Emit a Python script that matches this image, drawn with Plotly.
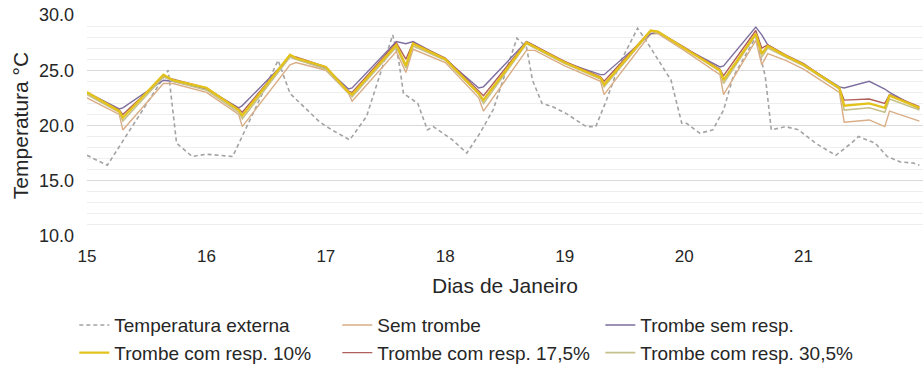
import plotly.graph_objects as go

# Indoor temperatures (°C) at key times of each day, January 15–22
dias = [15.00, 15.27, 15.30, 15.64, 15.72, 16.00, 16.27, 16.30, 16.70, 16.75,
        17.00, 17.19, 17.22, 17.59, 17.67, 17.73, 18.00, 18.28, 18.32, 18.68,
        18.75, 19.00, 19.30, 19.33, 19.72, 19.78, 20.00, 20.30, 20.33, 20.60,
        20.65, 20.70, 20.85, 21.00, 21.30, 21.34, 21.55, 21.68, 21.72, 21.97]

sem_trombe = [22.5, 21.0, 19.6, 23.8, 23.8, 23.0, 21.0, 19.9, 25.5, 25.7,
              25.0, 22.9, 22.2, 26.7, 24.8, 26.9, 25.7, 22.5, 21.3, 26.8,
              26.8, 25.4, 24.0, 22.8, 28.3, 28.3, 26.8, 24.6, 22.8, 27.7,
              25.5, 26.5, 25.9, 25.1, 23.0, 20.3, 20.5, 19.9, 21.3, 20.4]

trombe_sem_resp = [23.0, 21.5, 21.6, 24.1, 24.0, 23.3, 21.6, 21.8, 26.2, 26.0,
                   25.2, 23.3, 23.4, 27.6, 27.4, 27.6, 26.0, 23.4, 23.5, 27.6,
                   27.2, 25.7, 24.6, 24.6, 28.3, 28.5, 27.0, 25.3, 25.4, 28.9,
                   28.2, 27.3, 26.3, 25.5, 23.5, 23.4, 24.0, 23.3, 23.0, 21.5]

trombe_10 = [23.0, 21.3, 20.7, 24.6, 24.1, 23.4, 21.4, 20.9, 26.4, 26.1,
             25.3, 23.0, 22.8, 27.3, 25.4, 27.4, 26.0, 22.9, 22.3, 27.5,
             27.1, 25.7, 24.3, 23.7, 28.6, 28.5, 27.0, 25.0, 24.1, 28.3,
             26.5, 27.2, 26.3, 25.5, 23.4, 21.8, 22.0, 21.6, 22.7, 21.6]

trombe_17_5 = [23.0, 21.4, 21.0, 24.4, 24.2, 23.4, 21.5, 21.2, 26.3, 26.2,
               25.3, 23.1, 23.0, 27.5, 26.0, 27.5, 26.1, 23.1, 22.7, 27.6,
               27.2, 25.8, 24.4, 24.0, 28.6, 28.5, 27.1, 25.1, 24.5, 28.6,
               27.0, 27.3, 26.4, 25.6, 23.4, 22.3, 22.4, 22.0, 22.8, 21.7]

trombe_30_5 = [22.8, 21.2, 20.4, 24.4, 24.0, 23.2, 21.2, 20.6, 26.2, 26.0,
               25.1, 22.9, 22.6, 27.1, 25.2, 27.2, 25.9, 22.8, 22.0, 27.4,
               27.0, 25.6, 24.2, 23.5, 28.5, 28.4, 27.0, 24.9, 23.8, 28.2,
               26.2, 27.0, 26.2, 25.4, 23.3, 21.4, 21.6, 21.2, 22.4, 21.4]

# Outdoor air temperature
dias_ext = [15.00, 15.17, 15.68, 15.75, 15.88, 16.00, 16.22, 16.60, 16.70, 16.95,
            17.05, 17.20, 17.34, 17.56, 17.61, 17.65, 17.77, 17.85, 17.90, 17.98,
            18.06, 18.18, 18.29, 18.40, 18.60, 18.68, 18.73, 18.81, 18.90, 19.01,
            19.18, 19.26, 19.35, 19.46, 19.61, 19.68, 19.85, 19.89, 19.98, 20.02,
            20.13, 20.24, 20.33, 20.41, 20.60, 20.68, 20.73, 20.85, 20.96, 21.10,
            21.27, 21.40, 21.46, 21.60, 21.70, 21.81, 21.92, 21.97]
temp_externa = [17.3, 16.4, 25.0, 18.4, 17.2, 17.4, 17.2, 25.9, 22.9, 20.3,
                19.6, 18.7, 20.8, 28.2, 25.9, 22.9, 22.0, 19.6, 19.9, 19.3,
                18.7, 17.5, 19.3, 21.4, 27.9, 27.1, 24.1, 22.0, 21.7, 21.1,
                19.9, 19.9, 22.3, 25.6, 28.8, 27.7, 24.8, 24.1, 20.2, 20.2,
                19.3, 19.6, 21.4, 24.4, 28.0, 24.4, 19.6, 19.9, 19.6, 18.4,
                17.3, 18.4, 19.0, 18.4, 17.2, 16.7, 16.6, 16.4]

tick_vals = [15, 16, 17, 18, 19, 20, 21]
tick_text = ["15", "16", "17", "18", "19", "20", "21"]

FONT = "Liberation Sans, Arial, sans-serif"

fig = go.Figure()

# (name, x, y, color, width, dash, legend rank) in drawing order
series = [
    ("Temperatura externa", dias_ext, temp_externa, "#a3a3a3", 1.6, "4px,3px", 1),
    ("Sem trombe", dias, sem_trombe, "#d9ad86", 1.4, "solid", 2),
    ("Trombe sem resp.", dias, trombe_sem_resp, "#7d6e9e", 1.4, "solid", 3),
    ("Trombe com resp. 17,5%", dias, trombe_17_5, "#b0605a", 1.4, "solid", 5),
    ("Trombe com resp. 30,5%", dias, trombe_30_5, "#c6c08c", 1.6, "solid", 6),
    ("Trombe com resp. 10%", dias, trombe_10, "#e3c21c", 2.4, "solid", 4),
]

for name, x, y, color, width, dash, rank in series:
    fig.add_trace(go.Scatter(
        x=x, y=y, name=name, mode="lines",
        line=dict(color=color, width=width, dash=dash),
        legendrank=rank,
    ))

fig.update_layout(
    width=923, height=371,
    margin=dict(l=87, r=0, t=15, b=135),
    paper_bgcolor="white", plot_bgcolor="white",
    font=dict(family=FONT, color="#262626", size=18),
    showlegend=True,
    legend=dict(
        orientation="h",
        xref="container", yref="container",
        x=0.0805, y=0.175, xanchor="left", yanchor="top",
        font=dict(size=19, color="#262626"),
        entrywidth=218, entrywidthmode="pixels",
        itemwidth=30, tracegroupgap=0,
        bgcolor="rgba(0,0,0,0)",
        traceorder="normal",
    ),
    xaxis=dict(
        range=[15, 22],
        tickvals=tick_vals, ticktext=tick_text,
        showgrid=False, zeroline=False, showline=False,
        ticks="", ticklabelstandoff=8,
        tickfont=dict(size=17),
        title=dict(text="Dias de Janeiro", font=dict(size=21), standoff=13),
    ),
    yaxis=dict(
        range=[10, 30], dtick=5, tick0=10, tickformat=".1f",
        showgrid=True, gridcolor="#d9d9d9", gridwidth=1,
        zeroline=False, showline=False, ticks="",
        ticklabelstandoff=12,
        tickfont=dict(size=18),
        minor=dict(dtick=1, showgrid=True, gridcolor="#eeeeee", gridwidth=1),
        title=dict(text="Temperatura °C", font=dict(size=21), standoff=4),
    ),
)

fig.write_html("out.html")
